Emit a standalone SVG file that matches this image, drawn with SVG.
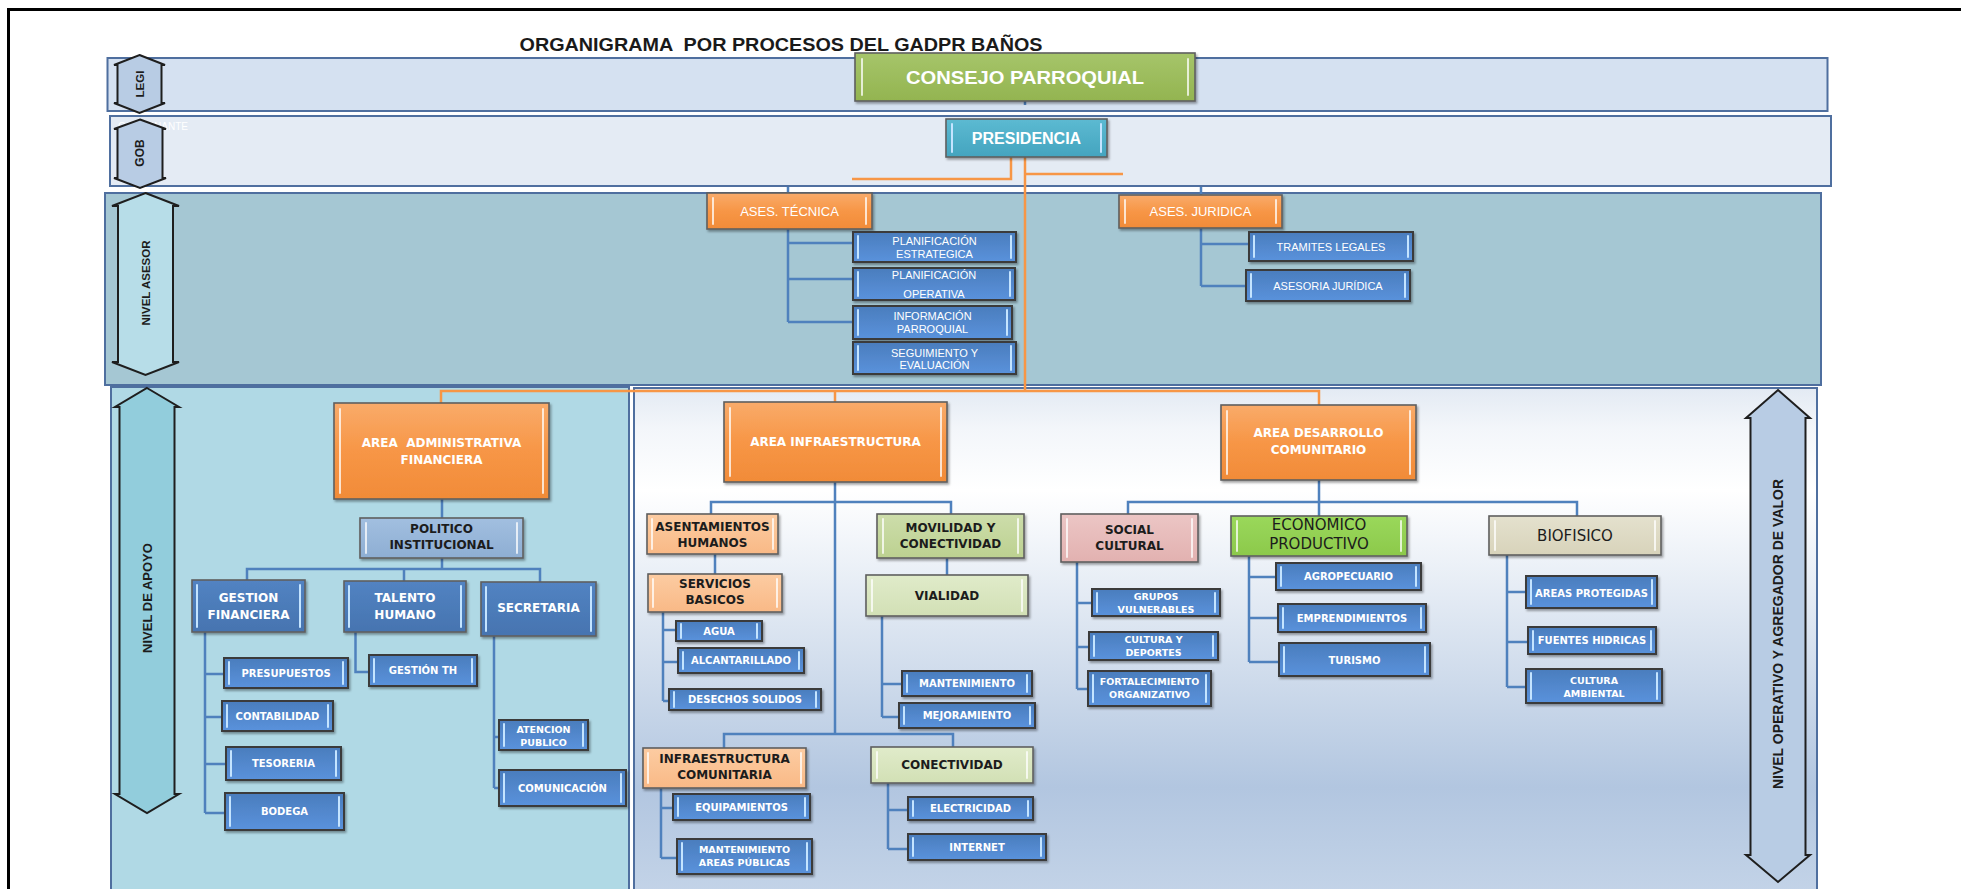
<svg xmlns="http://www.w3.org/2000/svg" width="1961" height="889" viewBox="0 0 1961 889">
<defs>
<linearGradient id="gOr" x1="0" y1="0" x2="0" y2="1"><stop offset="0" stop-color="#f9ab6a"/><stop offset="0.5" stop-color="#f79646"/><stop offset="1" stop-color="#f18b38"/></linearGradient>
<linearGradient id="gBl" x1="0" y1="0" x2="0" y2="1"><stop offset="0" stop-color="#4a7dbd"/><stop offset="1" stop-color="#5a92dc"/></linearGradient>
<linearGradient id="gDb" x1="0" y1="0" x2="0" y2="1"><stop offset="0" stop-color="#5283c2"/><stop offset="1" stop-color="#4674b0"/></linearGradient>
<linearGradient id="gPi" x1="0" y1="0" x2="0" y2="1"><stop offset="0" stop-color="#a2bfe0"/><stop offset="1" stop-color="#8eaed3"/></linearGradient>
<linearGradient id="gPe" x1="0" y1="0" x2="0" y2="1"><stop offset="0" stop-color="#fccca2"/><stop offset="1" stop-color="#f9b986"/></linearGradient>
<linearGradient id="gLg" x1="0" y1="0" x2="0" y2="1"><stop offset="0" stop-color="#cdddab"/><stop offset="1" stop-color="#bcd190"/></linearGradient>
<linearGradient id="gVg" x1="0" y1="0" x2="0" y2="1"><stop offset="0" stop-color="#e0ebca"/><stop offset="1" stop-color="#d2e0b5"/></linearGradient>
<linearGradient id="gPk" x1="0" y1="0" x2="0" y2="1"><stop offset="0" stop-color="#ecc6c5"/><stop offset="1" stop-color="#e2b1b0"/></linearGradient>
<linearGradient id="gEg" x1="0" y1="0" x2="0" y2="1"><stop offset="0" stop-color="#9ad85b"/><stop offset="1" stop-color="#8cc94b"/></linearGradient>
<linearGradient id="gBe" x1="0" y1="0" x2="0" y2="1"><stop offset="0" stop-color="#e4e1ce"/><stop offset="1" stop-color="#d8d3ba"/></linearGradient>
<linearGradient id="gGr" x1="0" y1="0" x2="0" y2="1"><stop offset="0" stop-color="#a6c56a"/><stop offset="1" stop-color="#93b450"/></linearGradient>
<linearGradient id="gTe" x1="0" y1="0" x2="0" y2="1"><stop offset="0" stop-color="#5cbad2"/><stop offset="1" stop-color="#44a4bf"/></linearGradient>
<linearGradient id="gOp" x1="0" y1="0" x2="0" y2="1"><stop offset="0" stop-color="#e3eaf3"/><stop offset="0.08" stop-color="#f3f6fa"/><stop offset="0.2" stop-color="#ffffff"/><stop offset="0.78" stop-color="#b2c6e0"/><stop offset="1" stop-color="#c4d4e8"/></linearGradient>
<filter id="sh" x="-10%" y="-20%" width="125%" height="150%"><feDropShadow dx="1.5" dy="2" stdDeviation="1.3" flood-color="#000" flood-opacity="0.35"/></filter>
<style>
.band{stroke:#4f6f9f;stroke-width:2}
.bx{stroke:#5f5f5f;stroke-width:1.6;filter:url(#sh)}
.sb{fill:url(#gBl);stroke:#3a3a3a;stroke-width:2;filter:url(#sh)}
.or{fill:url(#gOr)}
.db{fill:url(#gDb)}
.pi{fill:url(#gPi)}
.pe{fill:url(#gPe)}
.lg{fill:url(#gLg)}
.vg{fill:url(#gVg)}
.pk{fill:url(#gPk)}
.eg{fill:url(#gEg)}
.be{fill:url(#gBe)}
.hl{fill:none;stroke:#ffffff;stroke-opacity:0.75;stroke-width:2;stroke-linecap:round}
.hb{fill:none;stroke:#c4e4ff;stroke-width:2;stroke-linecap:round}
.ar{stroke:#1e1e1e;stroke-width:2;stroke-linejoin:miter}
.cb{fill:none;stroke:#4f81bd;stroke-width:2.5}
.co{fill:none;stroke:#f79646;stroke-width:2.5}
.tw{fill:#ffffff;font-family:"DejaVu Sans",sans-serif;font-weight:bold;text-anchor:middle;dominant-baseline:central}
.td{fill:#1c1c1c;font-family:"DejaVu Sans",sans-serif;font-weight:bold;text-anchor:middle;dominant-baseline:central}
.ls{font-family:"Liberation Sans",Arial,sans-serif}
.nb{font-weight:normal}
.s12{font-size:12px}
.s10{font-size:10px}
.s9{font-size:9.5px}
.s11{font-size:11px}
.s13{font-size:13px}
.s15{font-size:15px}
.av{fill:#1c1c1c;font-family:"Liberation Sans",Arial,sans-serif;font-weight:bold;text-anchor:middle;dominant-baseline:central}
</style>
</defs>

<rect x="0" y="0" width="1961" height="889" fill="#ffffff"/>
<path d="M7,9.5 H1961 M8.5,9 V889" fill="none" stroke="#000" stroke-width="3"/>

<text x="781" y="44" font-family="Liberation Sans, Arial, sans-serif" font-weight="bold" font-size="18.5" fill="#1a1a1a" text-anchor="middle" dominant-baseline="central" textLength="523" lengthAdjust="spacingAndGlyphs" xml:space="preserve">ORGANIGRAMA  POR PROCESOS DEL GADPR BAÑOS</text>

<!-- bands -->
<g id="band-legi"><rect class="band" x="107.5" y="58" width="1720" height="53" fill="#d5e1f1"/></g>
<g id="band-gob"><rect class="band" x="110" y="116" width="1721" height="70" fill="#e4ebf4"/>
<text x="118" y="126" font-family="Liberation Sans, Arial, sans-serif" font-size="10" fill="#ffffff" dominant-baseline="central">GOBERNANTE</text></g>
<g id="band-asesor"><rect class="band" x="105" y="193" width="1716" height="192" fill="#a5c7d3"/></g>
<g id="band-apoyo"><rect class="band" x="111" y="387" width="518" height="512" fill="#b0d9e5"/></g>
<g id="band-operativo"><rect class="band" x="634" y="388" width="1183" height="512" fill="url(#gOp)"/></g>

<!-- level arrows -->
<g id="arrow-legi"><path class="ar" fill="#b8cce4" d="M139.5,55 L165,65 L161.5,65 L161.5,103 L165,103 L139.5,113 L114,103 L117.5,103 L117.5,65 L114,65 Z"/>
<text class="av" font-size="11.5" transform="translate(140,84) rotate(-90)">LEGI</text></g>
<g id="arrow-gob"><path class="ar" fill="#b8cce4" d="M140,119.5 L166,129 L162.5,129 L162.5,178 L166,178 L140,188 L114,178 L117.5,178 L117.5,129 L114,129 Z"/>
<text class="av" font-size="12" transform="translate(140,153) rotate(-90)">GOB</text></g>
<g id="arrow-asesor"><path class="ar" fill="#b7dde8" d="M145.5,193 L179,206 L173,206 L173,362 L179,362 L145.5,375 L112,362 L118,362 L118,206 L112,206 Z"/>
<text class="av" font-size="11.5" transform="translate(145.5,283) rotate(-90)">NIVEL ASESOR</text></g>
<g id="arrow-apoyo"><path class="ar" fill="#92cddc" d="M147,388 L179,407 L174.5,407 L174.5,794 L179,794 L147,813 L115,794 L119.5,794 L119.5,407 L115,407 Z"/>
<text class="av" font-size="13" transform="translate(147,598) rotate(-90)">NIVEL DE APOYO</text></g>
<g id="arrow-operativo"><path class="ar" fill="#b8cce4" d="M1778,390 L1810,418 L1805.5,418 L1805.5,855 L1810,855 L1778,882 L1746,855 L1750.5,855 L1750.5,418 L1746,418 Z"/>
<text class="av" font-size="14" transform="translate(1778,634) rotate(-90)">NIVEL OPERATIVO Y AGREGADOR DE VALOR</text></g>

<!-- connectors -->
<g id="connectors">
<path class="co" d="M1011,157 V179 H852 M1123,174 H1025 M1025,157 V391 M441,403 V391 H1319 V405 M835,391 V402"/>
<path class="cb" d="M1025,101 V105 M788,187 V193 M1201,187 V195"/>
<path class="cb" d="M788,229 V322 M788,243 H853 M788,279 H853 M788,322 H853"/>
<path class="cb" d="M1201,228 V286 M1201,244 H1249 M1201,286 H1246"/>
<path class="cb" d="M442,499 V518 M442,558 V569 M247,580 V569 H540 V582 M404,569 V581"/>
<path class="cb" d="M205,632 V813 M205,674 H224 M205,717 H222 M205,764 H226 M205,813 H225"/>
<path class="cb" d="M355.5,632 V672 H369"/>
<path class="cb" d="M494,636 V788 M494,737 H499 M494,788 H499"/>
<path class="cb" d="M835,482 V734 M711,515 V502 H951 V514 M724,748 V734 H953 V747"/>
<path class="cb" d="M715,554 V574 M663,612 V701 M663,630 H676 M663,662 H678 M663,701 H669"/>
<path class="cb" d="M947,558 V575 M882,616 V717 M882,684 H902 M882,717 H899"/>
<path class="cb" d="M661,788 V858 M661,808 H673 M661,858 H677"/>
<path class="cb" d="M888,783 V849 M888,810 H908 M888,849 H908"/>
<path class="cb" d="M1319,480 V516 M1128,514 V502 H1577 V516"/>
<path class="cb" d="M1077,562 V689 M1077,603 H1092 M1077,647 H1089 M1077,689 H1088"/>
<path class="cb" d="M1249,556 V662 M1249,577 H1276 M1249,618 H1278 M1249,662 H1279"/>
<path class="cb" d="M1507,555 V687 M1507,592 H1526 M1507,642 H1528 M1507,687 H1526"/>
</g>

<!-- top nodes -->
<g id="consejo"><rect class="bx" x="855" y="53" width="340" height="48" fill="url(#gGr)"/><path class="hl" d="M862,59 V95 M1188,59 V95"/>
<text class="tw ls" font-size="19" x="1025" y="77" textLength="238" lengthAdjust="spacingAndGlyphs">CONSEJO PARROQUIAL</text></g>
<g id="presidencia"><rect class="bx" x="946" y="119" width="161" height="38" fill="url(#gTe)"/><path class="hb" d="M952,124 V152 M1101,124 V152"/>
<text class="tw ls" font-size="16" x="1026.5" y="138.5">PRESIDENCIA</text></g>

<g id="ases-tecnica"><rect class="bx or" x="707" y="193" width="165" height="36"/><path class="hl" d="M713,198 V224 M866,198 V224"/>
<text class="tw ls nb s13" x="789.5" y="211">ASES. TÉCNICA</text></g>
<g id="ases-juridica"><rect class="bx or" x="1119" y="195" width="163" height="33"/><path class="hl" d="M1125,200 V223 M1276,200 V223"/>
<text class="tw ls nb s13" x="1200.5" y="211.5">ASES. JURIDICA</text></g>

<g id="planif-estrategica"><rect class="sb" x="853" y="232" width="163" height="30"/><path class="hb" d="M858,236 V258 M1011,236 V258"/>
<text class="tw ls nb s11" x="934.5" y="241">PLANIFICACIÓN</text><text class="tw ls nb s11" x="934.5" y="254">ESTRATEGICA</text></g>
<g id="planif-operativa"><rect class="sb" x="853" y="268" width="162" height="32"/><path class="hb" d="M858,272 V296 M1010,272 V296"/>
<text class="tw ls nb s11" x="934" y="275">PLANIFICACIÓN</text><text class="tw ls nb s11" x="934" y="294">OPERATIVA</text></g>
<g id="informacion-parroquial"><rect class="sb" x="853" y="306" width="159" height="33"/><path class="hb" d="M858,310 V335 M1007,310 V335"/>
<text class="tw ls nb s11" x="932.5" y="316">INFORMACIÓN</text><text class="tw ls nb s11" x="932.5" y="329">PARROQUIAL</text></g>
<g id="seguimiento-evaluacion"><rect class="sb" x="853" y="342" width="163" height="32"/><path class="hb" d="M858,346 V370 M1011,346 V370"/>
<text class="tw ls nb s11" x="934.5" y="352.5">SEGUIMIENTO Y</text><text class="tw ls nb s11" x="934.5" y="364.5">EVALUACIÓN</text></g>
<g id="tramites-legales"><rect class="sb" x="1249" y="232" width="164" height="29"/><path class="hb" d="M1254,236 V257 M1408,236 V257"/>
<text class="tw ls nb s11" x="1331" y="246.5">TRAMITES LEGALES</text></g>
<g id="asesoria-juridica"><rect class="sb" x="1246" y="270" width="164" height="31"/><path class="hb" d="M1251,274 V297 M1405,274 V297"/>
<text class="tw ls nb s11" x="1328" y="285.5">ASESORIA JURÍDICA</text></g>

<!-- apoyo -->
<g id="area-administrativa"><rect class="bx or" x="334" y="403" width="215" height="96"/><path class="hl" d="M340,409 V493 M543,409 V493"/>
<text class="tw s12" x="441.5" y="443" xml:space="preserve">AREA  ADMINISTRATIVA</text><text class="tw s12" x="441.5" y="460">FINANCIERA</text></g>
<g id="politico-institucional"><rect class="bx pi" x="360" y="518" width="163" height="40"/><path class="hl" d="M366,523 V553 M517,523 V553"/>
<text class="td s12" x="441.5" y="529">POLITICO</text><text class="td s12" x="441.5" y="545">INSTITUCIONAL</text></g>
<g id="gestion-financiera"><rect class="bx db" x="192" y="580" width="113" height="52"/><path class="hb" d="M197,585 V627 M300,585 V627"/>
<text class="tw s12" x="248.5" y="598">GESTION</text><text class="tw s12" x="248.5" y="615">FINANCIERA</text></g>
<g id="talento-humano"><rect class="bx db" x="344" y="581" width="122" height="51"/><path class="hb" d="M349,586 V627 M461,586 V627"/>
<text class="tw s12" x="405" y="598">TALENTO</text><text class="tw s12" x="405" y="615">HUMANO</text></g>
<g id="secretaria"><rect class="bx db" x="481" y="582" width="115" height="54"/><path class="hb" d="M486,587 V631 M591,587 V631"/>
<text class="tw s12" x="538.5" y="608">SECRETARIA</text></g>
<g id="presupuestos"><rect class="sb" x="224" y="658" width="124" height="30"/><path class="hb" d="M229,662 V684 M343,662 V684"/><text class="tw s10" x="286" y="673">PRESUPUESTOS</text></g>
<g id="contabilidad"><rect class="sb" x="222" y="701" width="111" height="30"/><path class="hb" d="M227,705 V727 M328,705 V727"/><text class="tw s10" x="277.5" y="716">CONTABILIDAD</text></g>
<g id="tesoreria"><rect class="sb" x="226" y="747" width="115" height="33"/><path class="hb" d="M231,751 V776 M336,751 V776"/><text class="tw s10" x="283.5" y="763.5">TESORERIA</text></g>
<g id="bodega"><rect class="sb" x="225" y="793" width="119" height="37"/><path class="hb" d="M230,797 V826 M339,797 V826"/><text class="tw s10" x="284.5" y="811.5">BODEGA</text></g>
<g id="gestion-th"><rect class="sb" x="369" y="655" width="108" height="31"/><path class="hb" d="M374,659 V682 M472,659 V682"/><text class="tw s10" x="423" y="670.5">GESTIÓN TH</text></g>
<g id="atencion-publico"><rect class="sb" x="499" y="720" width="89" height="30"/><path class="hb" d="M504,724 V746 M583,724 V746"/>
<text class="tw s9" x="543.5" y="729">ATENCION</text><text class="tw s9" x="543.5" y="742">PUBLICO</text></g>
<g id="comunicacion"><rect class="sb" x="499" y="770" width="127" height="36"/><path class="hb" d="M504,774 V802 M621,774 V802"/><text class="tw s10" x="562.5" y="788">COMUNICACIÓN</text></g>

<!-- infraestructura -->
<g id="area-infraestructura"><rect class="bx or" x="724" y="402" width="223" height="80"/><path class="hl" d="M730,408 V476 M941,408 V476"/>
<text class="tw s12" x="835.5" y="442">AREA INFRAESTRUCTURA</text></g>
<g id="asentamientos-humanos"><rect class="bx pe" x="647" y="514" width="131" height="40"/><path class="hl" d="M652,519 V549 M773,519 V549"/>
<text class="td s12" x="712.5" y="527">ASENTAMIENTOS</text><text class="td s12" x="712.5" y="543">HUMANOS</text></g>
<g id="servicios-basicos"><rect class="bx pe" x="648" y="574" width="134" height="38"/><path class="hl" d="M653,579 V607 M777,579 V607"/>
<text class="td s12" x="715" y="584">SERVICIOS</text><text class="td s12" x="715" y="600">BASICOS</text></g>
<g id="agua"><rect class="sb" x="676" y="621" width="86" height="20"/><path class="hb" d="M681,624 V638 M757,624 V638"/><text class="tw s10" x="719" y="631">AGUA</text></g>
<g id="alcantarillado"><rect class="sb" x="678" y="648" width="126" height="25"/><path class="hb" d="M683,652 V669 M799,652 V669"/><text class="tw s10" x="741" y="660.5">ALCANTARILLADO</text></g>
<g id="desechos-solidos"><rect class="sb" x="669" y="689" width="152" height="21"/><path class="hb" d="M674,692 V707 M816,692 V707"/><text class="tw s10" x="745" y="699.5">DESECHOS SOLIDOS</text></g>
<g id="movilidad-conectividad"><rect class="bx lg" x="877" y="514" width="147" height="44"/><path class="hl" d="M883,519 V553 M1018,519 V553"/>
<text class="td s12" x="950.5" y="528">MOVILIDAD Y</text><text class="td s12" x="950.5" y="544">CONECTIVIDAD</text></g>
<g id="vialidad"><rect class="bx vg" x="866" y="575" width="162" height="41"/><path class="hl" d="M872,580 V611 M1022,580 V611"/>
<text class="td s12" x="947" y="595.5">VIALIDAD</text></g>
<g id="mantenimiento"><rect class="sb" x="902" y="671" width="130" height="25"/><path class="hb" d="M907,675 V692 M1027,675 V692"/><text class="tw s10" x="967" y="683.5">MANTENIMIENTO</text></g>
<g id="mejoramiento"><rect class="sb" x="899" y="703" width="136" height="25"/><path class="hb" d="M904,707 V724 M1030,707 V724"/><text class="tw s10" x="967" y="715.5">MEJORAMIENTO</text></g>
<g id="infraestructura-comunitaria"><rect class="bx pe" x="643" y="748" width="163" height="40"/><path class="hl" d="M648,753 V783 M801,753 V783"/>
<text class="td s12" x="724.5" y="758.5">INFRAESTRUCTURA</text><text class="td s12" x="724.5" y="775">COMUNITARIA</text></g>
<g id="equipamientos"><rect class="sb" x="673" y="794" width="137" height="26"/><path class="hb" d="M678,798 V816 M805,798 V816"/><text class="tw s10" x="741.5" y="807">EQUIPAMIENTOS</text></g>
<g id="mantenimiento-areas"><rect class="sb" x="677" y="839" width="135" height="35"/><path class="hb" d="M682,843 V870 M807,843 V870"/>
<text class="tw s9" x="744.5" y="849.5">MANTENIMIENTO</text><text class="tw s9" x="744.5" y="862.5">AREAS PÚBLICAS</text></g>
<g id="conectividad"><rect class="bx vg" x="871" y="747" width="162" height="36"/><path class="hl" d="M877,752 V778 M1027,752 V778"/>
<text class="td s12" x="952" y="765">CONECTIVIDAD</text></g>
<g id="electricidad"><rect class="sb" x="908" y="797" width="125" height="23"/><path class="hb" d="M913,801 V816 M1028,801 V816"/><text class="tw s10" x="970.5" y="808.5">ELECTRICIDAD</text></g>
<g id="internet"><rect class="sb" x="908" y="834" width="138" height="26"/><path class="hb" d="M913,838 V856 M1041,838 V856"/><text class="tw s10" x="977" y="847">INTERNET</text></g>

<!-- desarrollo comunitario -->
<g id="area-desarrollo"><rect class="bx or" x="1221" y="405" width="195" height="75"/><path class="hl" d="M1227,411 V474 M1410,411 V474"/>
<text class="tw s12" x="1318.5" y="433">AREA DESARROLLO</text><text class="tw s12" x="1318.5" y="450">COMUNITARIO</text></g>
<g id="social-cultural"><rect class="bx pk" x="1061" y="514" width="137" height="48"/><path class="hl" d="M1067,519 V557 M1192,519 V557"/>
<text class="td s12" x="1129.5" y="530">SOCIAL</text><text class="td s12" x="1129.5" y="546">CULTURAL</text></g>
<g id="grupos-vulnerables"><rect class="sb" x="1092" y="589" width="128" height="27"/><path class="hb" d="M1097,593 V612 M1215,593 V612"/>
<text class="tw s9" x="1156" y="596.5">GRUPOS</text><text class="tw s9" x="1156" y="609">VULNERABLES</text></g>
<g id="cultura-deportes"><rect class="sb" x="1089" y="632" width="129" height="28"/><path class="hb" d="M1094,636 V656 M1213,636 V656"/>
<text class="tw s9" x="1153.5" y="639.5">CULTURA Y</text><text class="tw s9" x="1153.5" y="652.5">DEPORTES</text></g>
<g id="fortalecimiento"><rect class="sb" x="1088" y="671" width="123" height="35"/><path class="hb" d="M1093,675 V702 M1206,675 V702"/>
<text class="tw s9" x="1149.5" y="681">FORTALECIMIENTO</text><text class="tw s9" x="1149.5" y="694.5">ORGANIZATIVO</text></g>
<g id="economico-productivo"><rect class="bx eg" x="1231" y="516" width="176" height="40"/><path class="hl" d="M1237,521 V551 M1401,521 V551"/>
<text class="td nb s15" x="1319" y="525">ECONOMICO</text><text class="td nb s15" x="1319" y="544">PRODUCTIVO</text></g>
<g id="agropecuario"><rect class="sb" x="1276" y="563" width="145" height="27"/><path class="hb" d="M1281,567 V586 M1416,567 V586"/><text class="tw s10" x="1348.5" y="576.5">AGROPECUARIO</text></g>
<g id="emprendimientos"><rect class="sb" x="1278" y="604" width="148" height="28"/><path class="hb" d="M1283,608 V628 M1421,608 V628"/><text class="tw s10" x="1352" y="618">EMPRENDIMIENTOS</text></g>
<g id="turismo"><rect class="sb" x="1279" y="643" width="151" height="33"/><path class="hb" d="M1284,647 V672 M1425,647 V672"/><text class="tw s10" x="1354.5" y="660">TURISMO</text></g>
<g id="biofisico"><rect class="bx be" x="1489" y="516" width="172" height="39"/><path class="hl" d="M1495,521 V550 M1655,521 V550"/>
<text class="td nb s15" x="1575" y="536">BIOFISICO</text></g>
<g id="areas-protegidas"><rect class="sb" x="1526" y="576" width="131" height="32"/><path class="hb" d="M1531,580 V604 M1652,580 V604"/><text class="tw s10" x="1591.5" y="593">AREAS PROTEGIDAS</text></g>
<g id="fuentes-hidricas"><rect class="sb" x="1528" y="627" width="128" height="27"/><path class="hb" d="M1533,631 V650 M1651,631 V650"/><text class="tw s10" x="1592" y="640.5">FUENTES HIDRICAS</text></g>
<g id="cultura-ambiental"><rect class="sb" x="1526" y="669" width="136" height="34"/><path class="hb" d="M1531,673 V699 M1657,673 V699"/>
<text class="tw s9" x="1594" y="680">CULTURA</text><text class="tw s9" x="1594" y="693">AMBIENTAL</text></g>
</svg>
